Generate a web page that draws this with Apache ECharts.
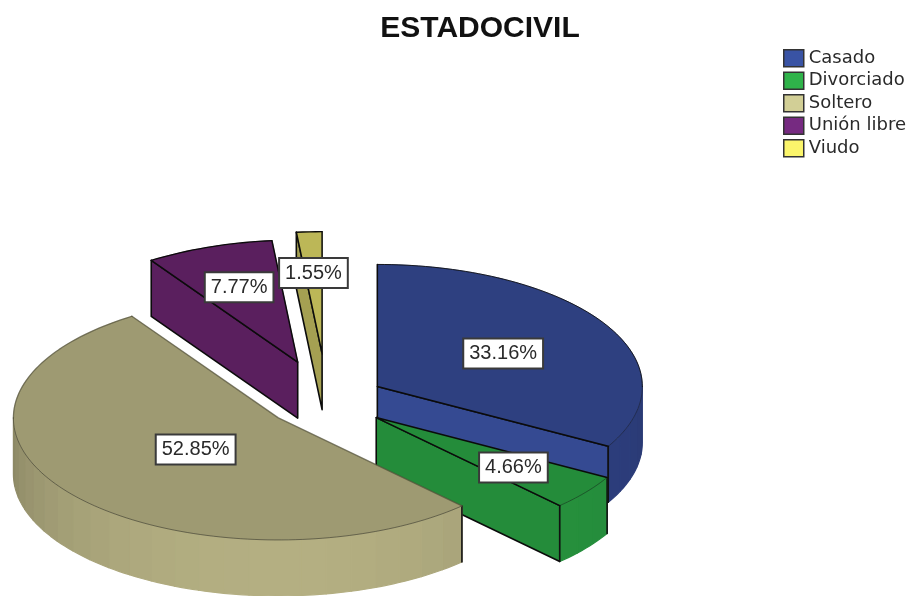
<!DOCTYPE html>
<html>
<head>
<meta charset="utf-8">
<style>html,body{margin:0;padding:0;background:#fff}#c{width:912px;height:596px}</style>
<script src="https://cdn.jsdelivr.net/npm/echarts@6/dist/echarts.min.js"></script>
</head>
<body>
<div id="c"></div>
<script>
// ---- data ----
const chartTitle = 'ESTADOCIVIL';
const categories = ['Casado', 'Divorciado', 'Soltero', 'Unión libre', 'Viudo'];
const percents = [33.16, 4.66, 52.85, 7.77, 1.55];

// ---- styling and layout of the projected pie ----
const legendColors = ['#3953a4', '#2fb34a', '#d2cf96', '#762a81', '#fbf56b'];
const topColors = ['#2e4080', '#248c3a', '#9e9a72', '#5a1f5e', '#bcb757'];
const cutColors = ['#354a92', '#248c3a', '#9e9a72', '#5a1f5e', '#a5a052'];
const rimDark = ['#2a3a74', '#238539', '#8b8765', '#5a1f5e', '#a5a052'];
const rimLight = ['#2f4184', '#27943e', '#b4af82', '#5a1f5e', '#a5a052'];
const edgeColors = ['#0b0b0b', '#0b0b0b', 'rgba(60,58,40,0.55)', '#0b0b0b', '#0b0b0b'];
const explode = [0.22, 0.235, 0.235, 0.33, 0.38];
const labelFraction = [0.55, 0.655, 0.4, 0.66, 0.67];
const drawOrder = [4, 3, 0, 1, 2];
const PIE = { cx: 327, cy: 400, rx: 265, ry: 122, depth: 56, facet: 5.6, labelDy: 1 };

const total = percents.reduce((a, b) => a + b, 0);
const starts = [];
percents.reduce((acc, v, i) => { starts[i] = acc; return acc + v; }, 0);
const rad = d => d * Math.PI / 180;
const spans = i => {
  const a = starts[i] / total * 360;
  return [a, a + percents[i] / total * 360];
};
const onEllipse = (t, ox, oy, k) => [ox + PIE.rx * (k === undefined ? 1 : k) * Math.sin(rad(t)), oy - PIE.ry * (k === undefined ? 1 : k) * Math.cos(rad(t))];
const apexOf = i => {
  const s = spans(i), m = (s[0] + s[1]) / 2;
  return onEllipse(m, PIE.cx, PIE.cy, explode[i]);
};
const hex = c => [1, 3, 5].map(p => parseInt(c.substr(p, 2), 16));
const mix = (a, b, t) => {
  const x = hex(a), y = hex(b);
  return 'rgb(' + x.map((v, j) => Math.round(v + (y[j] - v) * t)).join(',') + ')';
};
const down = p => [p[0], p[1] + PIE.depth];
const poly = (points, fill, stroke, width) => ({
  type: 'polygon',
  shape: { points },
  style: { fill, stroke: stroke || fill, lineWidth: width || 1.2, lineJoin: 'round' }
});
const line = (points, stroke, width) => ({
  type: 'polyline',
  shape: { points },
  style: { fill: 'none', stroke, lineWidth: width, lineJoin: 'round', lineCap: 'round' }
});

function arc(a0, a1, ox, oy) {
  const pts = [];
  const n = Math.max(2, Math.ceil((a1 - a0) / 1.5));
  for (let j = 0; j <= n; j++) pts.push(onEllipse(a0 + (a1 - a0) * j / n, ox, oy));
  return pts;
}

function sliceItem(i) {
  const [a0, a1] = spans(i);
  const m = (a0 + a1) / 2;
  const [ox, oy] = apexOf(i);
  const apex = [ox, oy];
  const children = [];

  // cut walls facing the viewer
  [a0, a1].forEach(edge => {
    const p = onEllipse(edge, 0, 0);
    const q = onEllipse(m, 0, 0);
    let n = [-p[1], p[0]];
    if (n[0] * q[0] + n[1] * q[1] > 0) n = [-n[0], -n[1]];
    if (n[1] > 0) {
      const e = onEllipse(edge, ox, oy);
      children.push(poly([apex, e, down(e), down(apex)], cutColors[i], '#0b0b0b', 1.6));
    }
  });

  // curved outer wall, split into shaded facets
  const f0 = Math.max(a0, 90), f1 = Math.min(a1, 270);
  if (f1 > f0) {
    const count = Math.max(1, Math.round((f1 - f0) / PIE.facet));
    for (let j = 0; j < count; j++) {
      const s = f0 + (f1 - f0) * j / count;
      const e = f0 + (f1 - f0) * (j + 1) / count;
      const shade = Math.max(0, -Math.cos(rad((s + e) / 2)));
      const upper = arc(s, e, ox, oy);
      const lower = upper.map(down).reverse();
      children.push(poly(upper.concat(lower), mix(rimDark[i], rimLight[i], shade)));
    }
    [a0, a1].forEach(edge => {
      if (edge > 90 && edge < 270) {
        const e = onEllipse(edge, ox, oy);
        children.push(line([e, down(e)], '#111', 1.6));
      }
    });
  }

  // top face
  const rim = arc(a0, a1, ox, oy);
  children.push(poly([apex].concat(rim), topColors[i], topColors[i], 0.6));
  if (f1 > f0) children.push(line(arc(f0, f1, ox, oy), 'rgba(20,20,20,0.55)', 0.8));
  if (a0 < 90) children.push(line(arc(a0, Math.min(a1, 90), ox, oy), 'rgba(10,10,10,0.85)', 1));
  if (a1 > 270) children.push(line(arc(Math.max(a0, 270), a1, ox, oy), edgeColors[i], 1.3));
  children.push(line([onEllipse(a0, ox, oy), apex, onEllipse(a1, ox, oy)], edgeColors[i], 1.5));
  return { type: 'group', children };
}

function labelItem(i) {
  const [a0, a1] = spans(i);
  const [ox, oy] = apexOf(i);
  const pos = onEllipse((a0 + a1) / 2, ox, oy, labelFraction[i]);
  return {
    type: 'text',
    x: pos[0], y: pos[1] + PIE.labelDy,
    style: {
      text: percents[i].toFixed(2) + '%',
      font: '20px "Liberation Sans", Arial, sans-serif',
      fill: '#2a2a2a',
      align: 'center', verticalAlign: 'middle',
      backgroundColor: '#fff',
      borderColor: '#3a3a3a',
      borderWidth: 2,
      padding: [4, 5, 4, 5]
    }
  };
}

const chart = echarts.init(document.getElementById('c'), null, { renderer: 'canvas' });
const series = drawOrder.map(i => ({
  type: 'custom',
  name: categories[i],
  coordinateSystem: 'none',
  silent: true,
  animation: false,
  itemStyle: { color: legendColors[i] },
  data: [[percents[i]]],
  renderItem: () => sliceItem(i)
}));
series.push({
  type: 'custom',
  name: 'etiquetas',
  coordinateSystem: 'none',
  silent: true,
  animation: false,
  z: 5,
  data: percents.map(v => [v]),
  renderItem: params => labelItem(params.dataIndex)
});

chart.setOption({
  backgroundColor: '#fff',
  animation: false,
  title: {
    text: chartTitle,
    left: 475, top: 9, textAlign: 'center',
    textStyle: { fontFamily: '"Liberation Sans", Arial, sans-serif', fontWeight: 'bold', fontSize: 30, color: '#111' }
  },
  legend: {
    orient: 'vertical',
    left: 783, top: 49, padding: 0,
    itemWidth: 20, itemHeight: 17, itemGap: 4,
    selectedMode: false,
    icon: 'rect',
    textStyle: { fontFamily: '"DejaVu Sans", sans-serif', fontSize: 18, color: '#2a2a2a', padding: 0, lineHeight: 17, height: 17 },
    data: categories.map((name, i) => ({
      name,
      icon: 'rect',
      itemStyle: { color: legendColors[i], borderColor: '#333', borderWidth: 1.5 }
    }))
  },
  series
});
</script>
</body>
</html>
